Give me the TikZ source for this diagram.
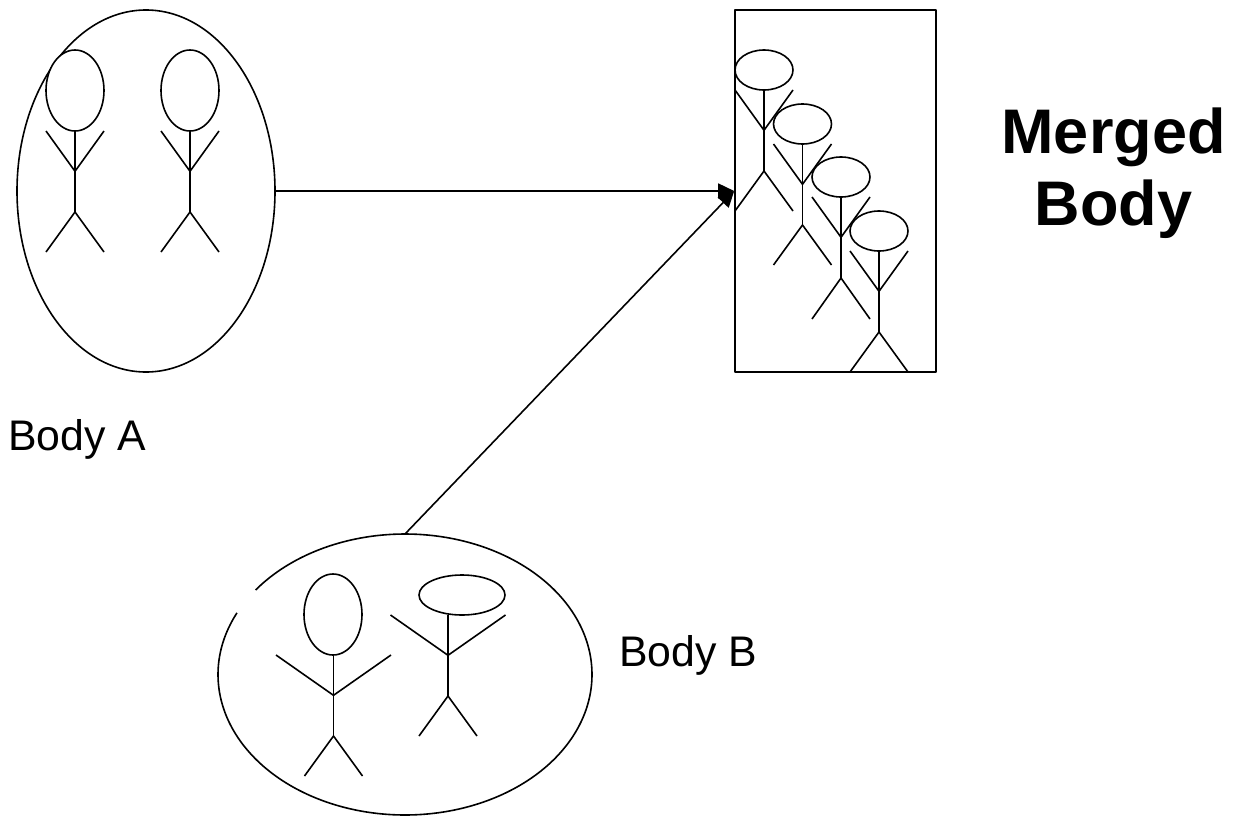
\documentclass[tikz,border=0pt]{standalone}
\usepackage{fontspec}
\setmainfont{Liberation Sans}
\usetikzlibrary{shapes.geometric,arrows.meta}
\tikzset{
  ink/.style={line width=1.6pt,black,line join=round},
  bodyshape/.style={ellipse,inner sep=0pt,outer sep=0pt},
  headshape/.style={ellipse,draw,ink,fill=white,inner sep=0pt,outer sep=0pt},
  link/.style={ink,-{Triangle[length=16pt,width=15pt]}},
  plainlabel/.style={inner sep=0pt,font=\fontsize{42.8}{50}\selectfont},
  boldlabel/.style={inner sep=0pt,align=center,font=\fontsize{63}{71.5}\selectfont\bfseries}
}
% #1 name, #2 body x, #3 arm top y, #4 head centre x, #5 head width, #6 head height, #7 arm half width, #8 leg end y
\newcommand{\stickman}[8]{%
  \pgfmathsetmacro{\jointy}{#3+40.3}
  \pgfmathsetmacro{\hipy}{#3+81}
  \draw[ink] (#2,#3) -- (#2,\hipy);
  \draw[ink] (#2-#7,#3) -- (#2,\jointy) -- (#2+#7,#3);
  \draw[ink] (#2-29,#8) -- (#2,\hipy) -- (#2+29,#8);
  \node[headshape,minimum width=#5pt,minimum height=#6pt] (#1) at (#4,#3-#6/2) {};
}
\begin{document}
\begin{tikzpicture}[x=1pt,y=-1pt]
\useasboundingbox (0,0) rectangle (1236,819);
% containers
\node[bodyshape,ink,draw,minimum width=258pt,minimum height=362pt] (bodyA) at (146,191) {};
\node[bodyshape,minimum width=374pt,minimum height=281pt] (bodyB) at (405,674.5) {};
\draw[ink] plot[domain=154:503,samples=160,smooth] ({405+187*cos(\x)},{674.5-140.5*sin(\x)});
\node[ink,draw,rectangle,inner sep=0pt,minimum width=201pt,minimum height=362pt] (merged) at (835.5,191) {};
% connectors
\draw[link] (bodyA.east) -- (merged.west);
\draw[link] (bodyB.north) -- (merged.west);
% figures of body A
\stickman{aone}{75}{131}{75}{58}{81}{29}{252}
\stickman{atwo}{190}{131}{190}{58}{81}{29}{252}
% figures of body B
\stickman{bone}{333.5}{655}{333}{58}{81}{57.5}{776}
\stickman{btwo}{448}{615}{462}{86}{40}{57.5}{736}
% figures of merged body
\stickman{mone}{764}{90}{764}{58}{40}{29}{211}
\stickman{mtwo}{802.5}{144}{802.5}{58}{40}{29}{265}
\stickman{mthree}{841}{197}{841}{58}{40}{29}{319}
\stickman{mfour}{879}{251}{879}{58}{40}{29}{372}
% labels
\node[plainlabel,anchor=base west] (labelA) at (8,450) {Body A};
\node[plainlabel,anchor=base west] (labelB) at (619,666) {Body B};
\node[boldlabel,anchor=base] (labelM) at (1113.5,225) {Merged\\Body};
\end{tikzpicture}
\end{document}
